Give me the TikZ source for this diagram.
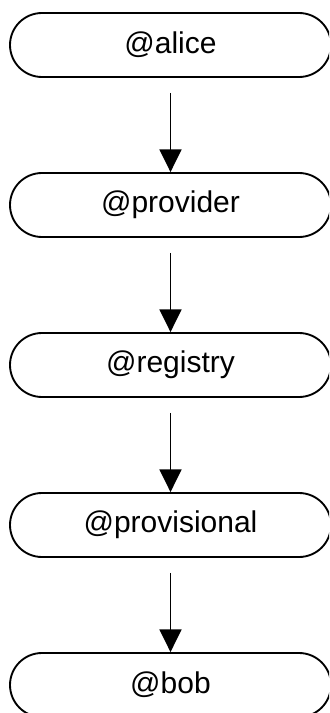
\documentclass[tikz,border=0pt]{standalone}
\usepackage{fontspec}
\setmainfont{Liberation Sans}
\usetikzlibrary{arrows.meta}
\tikzset{
  pill/.style={draw=black, line width=1.4pt, rounded corners=24pt,
    minimum width=240.75pt, minimum height=48pt, inner sep=0pt,
    font=\fontsize{22.5}{26}\selectfont},
  flow/.style={draw=black, line width=1.4pt, -{Triangle[width=16.5pt,length=17pt]}}
}
\begin{document}
\begin{tikzpicture}[x=0.75pt,y=-0.75pt]
\useasboundingbox (0,0) rectangle (329,713);
\clip (0,0) rectangle (329,713);
\node[pill] (alice) at (170.5,45) {@alice};
\node[pill] (provider) at (170.5,205) {@provider};
\node[pill] (registry) at (170.5,365) {@registry};
\node[pill] (provisional) at (170.5,525) {@provisional};
\node[pill] (bob) at (170.5,685) {@bob};
\draw[flow] ([yshift=-11.25pt]alice.south) -- (provider.north);
\draw[flow] ([yshift=-11.25pt]provider.south) -- (registry.north);
\draw[flow] ([yshift=-11.25pt]registry.south) -- (provisional.north);
\draw[flow] ([yshift=-11.25pt]provisional.south) -- (bob.north);
\end{tikzpicture}
\end{document}
